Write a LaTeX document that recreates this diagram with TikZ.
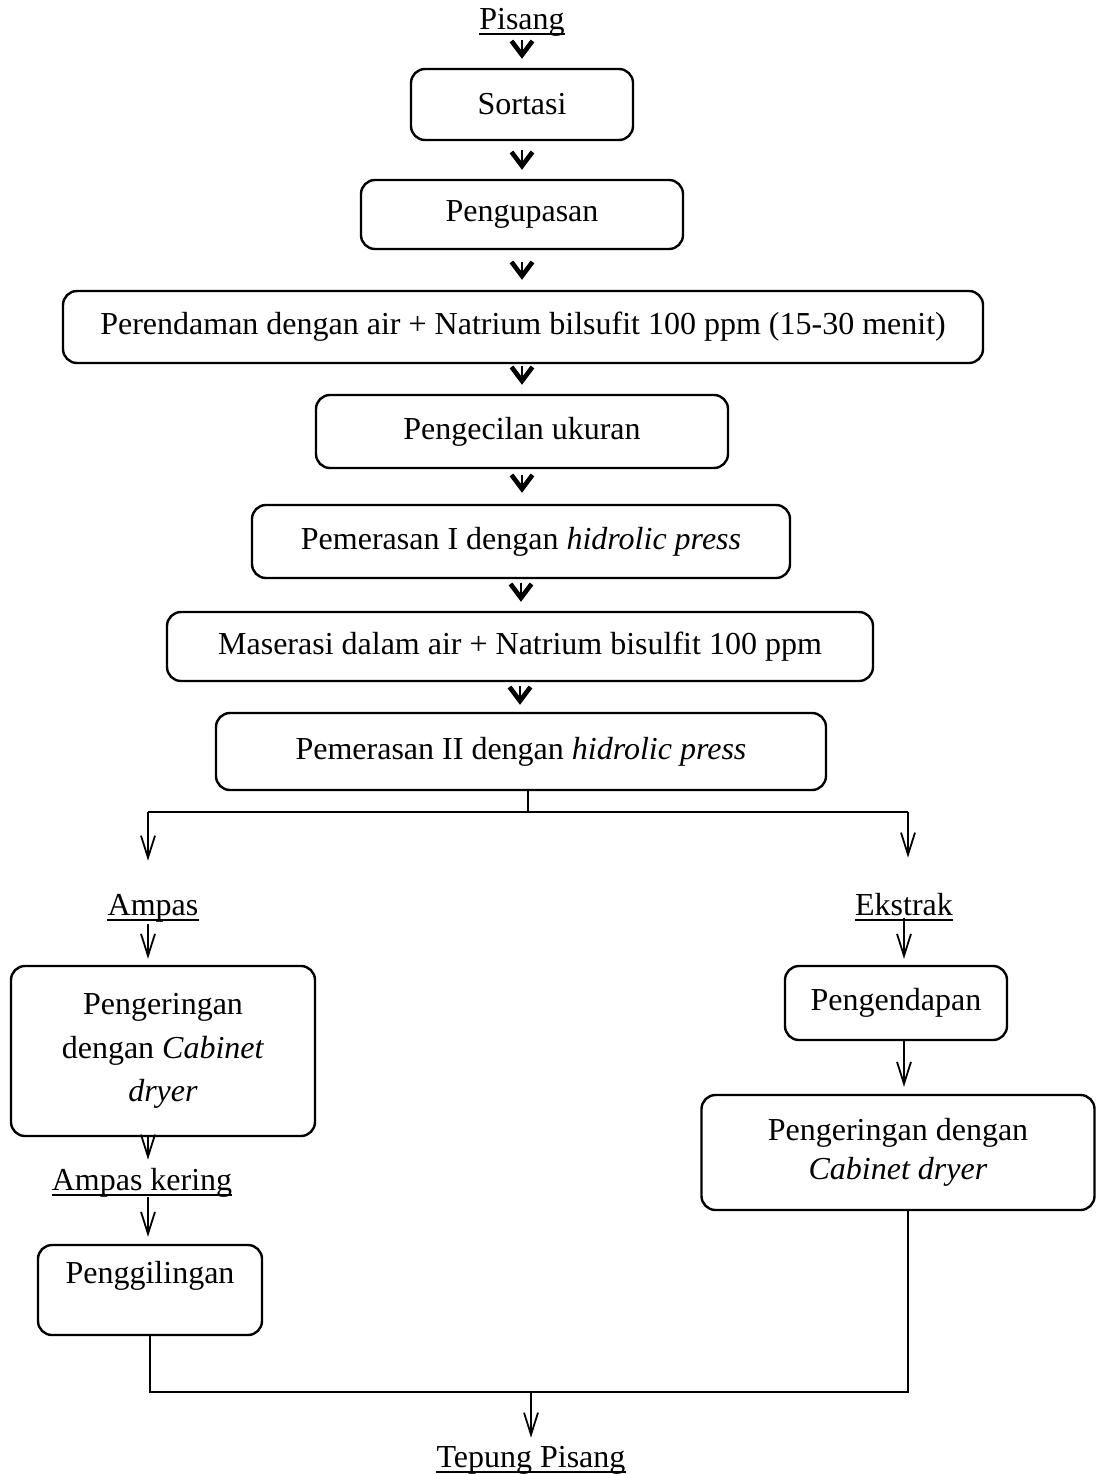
\documentclass[tikz,border=0pt]{standalone}
\usepackage{fontspec}
\setmainfont{Liberation Serif}
\usetikzlibrary{arrows.meta}
\begin{document}
\begin{tikzpicture}[x=1pt,y=-1pt,
  every node/.style={font=\fontsize{32pt}{43.5pt}\selectfont},
  procbox/.style={draw,line width=2.4pt,rounded corners=14pt,align=center,inner sep=0pt},
  term/.style={inner sep=0pt,anchor=base},
  chev/.style={line width=2.2pt,-{Straight Barb[length=14pt,width=21pt,line width=4.6pt]}},
  arr/.style={line width=1.8pt,-{Straight Barb[length=22pt,width=14pt,line width=1.8pt]}},
  link/.style={line width=2.2pt},
  uline/.style={line width=2pt}]
\useasboundingbox (0,0) rectangle (1096,1474);

% main column
\node[term] (pisang) at (522,30) {Pisang};
\node[procbox,minimum width=222pt,minimum height=71pt] (sortasi) at (522,104.5) {Sortasi};
\node[procbox,minimum width=322pt,minimum height=69pt] (kupas) at (522,214.5) {Pengupasan};
\node[procbox,minimum width=920pt,minimum height=72pt] (rendam) at (523,327) {Perendaman dengan air + Natrium bilsufit 100 ppm (15-30 menit)};
\node[procbox,minimum width=412pt,minimum height=73pt] (kecil) at (522,431.5) {Pengecilan ukuran};
\node[procbox,minimum width=538pt,minimum height=73pt] (peras1) at (521,541.5) {Pemerasan I dengan \textit{hidrolic press}};
\node[procbox,minimum width=706pt,minimum height=69pt] (maserasi) at (520,646.5) {Maserasi dalam air + Natrium bisulfit 100 ppm};
\node[procbox,minimum width=610pt,minimum height=77pt] (peras2) at (521,751.5) {Pemerasan II dengan \textit{hidrolic press}};

% left branch
\node[term] (ampas) at (153,915) {Ampas};
\node[procbox,minimum width=304pt,minimum height=170pt] (keringA) at (163,1051) {Pengeringan\\dengan \textit{Cabinet}\\\textit{dryer}};
\node[term] (ampask) at (142,1190) {Ampas kering};
\node[procbox,minimum width=224pt,minimum height=90pt,text depth=36pt] (giling) at (150,1290) {Penggilingan};

% right branch
\node[term] (ekstrak) at (904,915) {Ekstrak};
\node[procbox,minimum width=222pt,minimum height=74pt] (endap) at (896,1003) {Pengendapan};
\node[procbox,minimum width=393pt,minimum height=115pt,font=\fontsize{32pt}{39.5pt}\selectfont] (keringB) at (898,1152.5) {Pengeringan dengan\\\textit{Cabinet dryer}};

\node[term] (tepung) at (531,1467) {Tepung Pisang};

% underlines of the material labels
\foreach \t in {pisang,ampas,ekstrak,ampask,tepung}
  \draw[uline] ([yshift=-4.5pt]\t.base west) -- ([yshift=-4.5pt]\t.base east);

% chevrons of the main column
\draw[chev,shorten <=6pt,shorten >=9pt] ([yshift=-4pt]pisang.base) -- (sortasi.north);
\draw[chev,shorten <=9pt,shorten >=9pt] (sortasi.south) -- (kupas.north);
\draw[chev,shorten <=12pt,shorten >=10pt] (kupas.south) -- (kupas.south |- rendam.north);
\draw[chev,shorten <=2pt,shorten >=9pt] (kecil.north |- rendam.south) -- (kecil.north);
\draw[chev,shorten <=6pt,shorten >=11pt] (kecil.south) -- (kecil.south |- peras1.north);
\draw[chev,shorten <=4pt,shorten >=9pt] (peras1.south) -- (peras1.south |- maserasi.north);
\draw[chev,shorten <=4pt,shorten >=7pt] (maserasi.south) -- (maserasi.south |- peras2.north);

% split after the second pressing
\coordinate (split) at (528,812);
\coordinate (splitL) at (148,812);
\coordinate (splitR) at (908,812);
\draw[link] (split |- peras2.south) -- (split);
\draw[link] (splitL) -- (splitR);
\draw[arr,shorten >=33pt] (splitL) -- (splitL |- ampas.north);
\draw[arr,shorten >=35pt] (splitR) -- (splitR |- ekstrak.north);

% left branch arrows
\draw[arr,shorten <=2pt,shorten >=6pt] (ampas.south -| splitL) -- (splitL |- keringA.north);
\draw[arr,shorten >=8pt] (splitL |- keringA.south) -- (splitL |- ampask.north);
\draw[arr,shorten >=7pt] (splitL |- ampask.south) -- (splitL |- giling.north);

% right branch arrows
\draw[arr,shorten <=2pt,shorten >=6pt] (ekstrak.south) -- (ekstrak.south |- endap.north);
\draw[arr,shorten >=7pt] (ekstrak.south |- endap.south) -- (ekstrak.south |- keringB.north);

% joining the two branches
\coordinate (joinL) at (150,1392);
\coordinate (joinR) at (908,1392);
\coordinate (join) at (531,1392);
\draw[link] (giling.south) -- (joinL) -- (joinR) -- (joinR |- keringB.south);
\draw[arr,shorten >=8pt] (join) -- (tepung.north);
\end{tikzpicture}
\end{document}
